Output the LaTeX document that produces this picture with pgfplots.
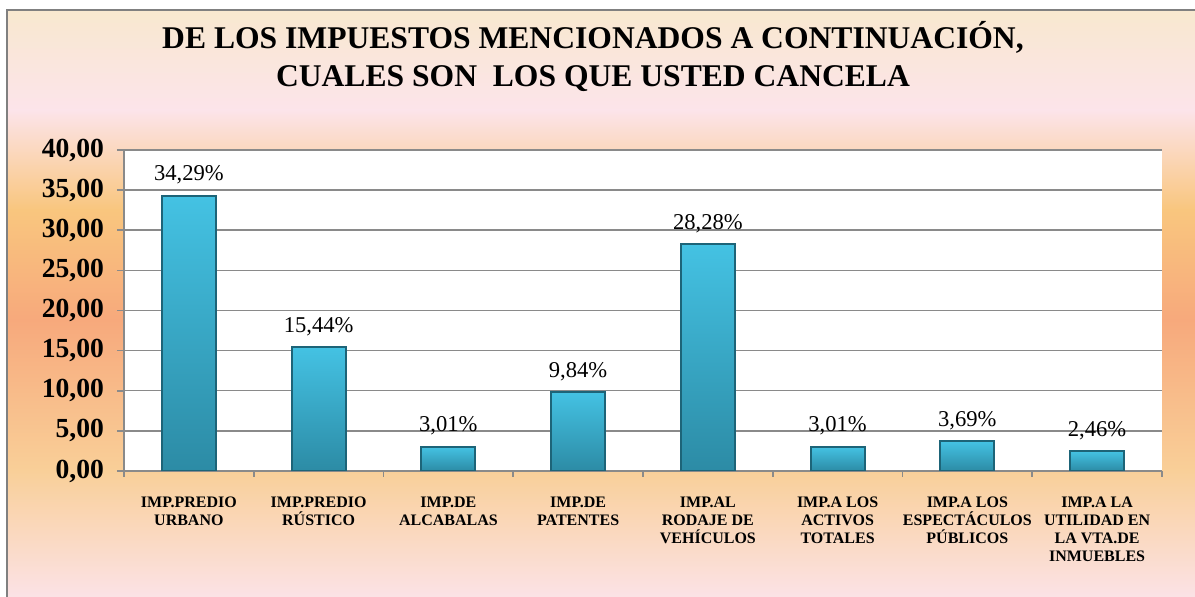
\documentclass[border=0pt]{standalone}
\usepackage{fontspec}
\setmainfont{Liberation Serif}
\usepackage{pgfplots}
\pgfplotsset{compat=1.18}
\definecolor{bg1}{HTML}{F8E8CF}
\definecolor{bg2}{HTML}{FCE4EA}
\definecolor{bg3}{HTML}{F9C67E}
\definecolor{bg4}{HTML}{F7A97C}
\definecolor{bg5}{HTML}{F9CF98}
\definecolor{bg6}{HTML}{FBE2E6}
\definecolor{bartop}{HTML}{44C2E3}
\definecolor{barbot}{HTML}{2C8BA5}
\definecolor{baredge}{HTML}{1D6478}
\definecolor{gridc}{HTML}{8A8A8A}
\pgfplotsset{onebar/.style={top color=bartop, bottom color=barbot, draw=baredge, line width=1pt, bar shift=0pt}}
\begin{document}
\begin{tikzpicture}
\useasboundingbox (0,0) rectangle (597.5pt,298.5pt);
\fill[white] (0,0) rectangle (597.5pt,298.5pt);
% background gradient
\shade[top color=bg1, bottom color=bg2] (3.5pt,243.5pt) rectangle (597.5pt,293.5pt);
\shade[top color=bg2, bottom color=bg3] (3.5pt,193.5pt) rectangle (597.5pt,243.6pt);
\shade[top color=bg3, bottom color=bg4] (3.5pt,138.5pt) rectangle (597.5pt,193.6pt);
\shade[top color=bg4, bottom color=bg5] (3.5pt,63.5pt) rectangle (597.5pt,138.6pt);
\shade[top color=bg5, bottom color=bg6] (3.5pt,0pt) rectangle (597.5pt,63.6pt);
\draw[gray, line width=1pt] (3.5pt,0pt) -- (3.5pt,293.5pt) -- (597.5pt,293.5pt);
% title
\node[anchor=base, font=\bfseries\fontsize{15.8}{18}\selectfont] at (296.5pt,274pt) {DE LOS IMPUESTOS MENCIONADOS A CONTINUACIÓN,};
\node[anchor=base, font=\bfseries\fontsize{15.8}{18}\selectfont] at (296.5pt,255pt) {CUALES SON\ \ LOS QUE USTED CANCELA};
\begin{axis}[
  at={(62pt,63pt)}, anchor=south west,
  scale only axis, width=519pt, height=160.5pt,
  xmin=0, xmax=8, ymin=0, ymax=40,
  axis background/.style={fill=white},
  axis x line*=bottom, axis y line*=left,
  axis line style={draw=gridc, line width=0.8pt, -},
  ymajorgrids, grid style={draw=gridc, line width=0.75pt},
  ytick={0,5,...,40},
  tick align=outside,
  major tick length=3.5pt,
  tick style={draw=gridc, line width=0.8pt},
  yticklabel style={font=\bfseries\fontsize{13.8}{14}\selectfont, xshift=-3pt},
  /pgf/number format/.cd, fixed, fixed zerofill, precision=2, use comma, assume math mode=true,
  /pgfplots/.cd,
  xtick={0.5,1.5,...,7.5},
  x tick style={draw=none},
  xticklabels={{IMP.PREDIO\\URBANO},{IMP.PREDIO\\RÚSTICO},{IMP.DE\\ALCABALAS},{IMP.DE\\PATENTES},{IMP.AL\\RODAJE DE\\VEHÍCULOS},{IMP.A LOS\\ACTIVOS\\TOTALES},{IMP.A LOS\\ESPECTÁCULOS\\PÚBLICOS},{IMP.A LA\\UTILIDAD EN\\LA VTA.DE\\INMUEBLES}},
  xticklabel style={font=\bfseries\fontsize{8}{9}\selectfont, align=center, anchor=north, yshift=-6pt},
  extra x ticks={0,1,...,8},
  extra x tick labels={},
  extra x tick style={x tick style={draw=gridc, line width=0.8pt}, major tick length=3pt, grid=none},
  ybar, bar width=27pt,
  nodes near coords, point meta=explicit symbolic,
  every node near coord/.append style={font=\fontsize{11.3}{11}\selectfont, anchor=base, yshift=7.5pt, inner sep=0pt},
]
\addplot[onebar] coordinates {(0.5,34.29) [34,29\%]};
\addplot[onebar] coordinates {(1.5,15.44) [15,44\%]};
\addplot[onebar] coordinates {(2.5,3.01) [3,01\%]};
\addplot[onebar] coordinates {(3.5,9.84) [9,84\%]};
\addplot[onebar] coordinates {(4.5,28.28) [28,28\%]};
\addplot[onebar] coordinates {(5.5,3.01) [3,01\%]};
\addplot[onebar] coordinates {(6.5,3.69) [3,69\%]};
\addplot[onebar] coordinates {(7.5,2.46) [2,46\%]};
\end{axis}
\end{tikzpicture}
\end{document}
